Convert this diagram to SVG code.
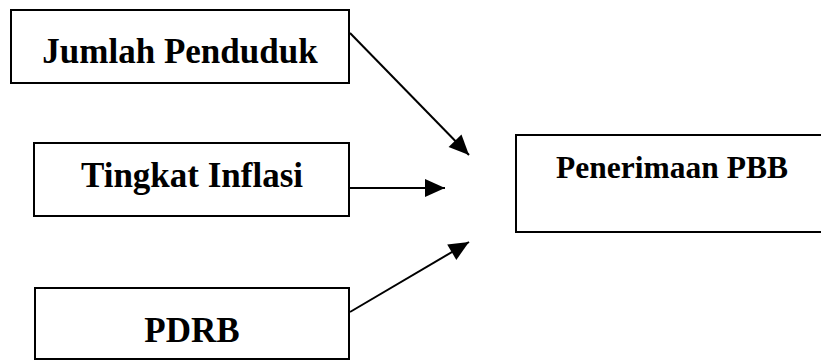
<svg xmlns="http://www.w3.org/2000/svg" width="821" height="361" viewBox="0 0 821 361">
  <style>
    .box { fill: #fff; stroke: #000; stroke-width: 2; }
    .lbl { font-family: "Liberation Serif", "Times New Roman", serif; font-weight: bold; font-size: 35px; fill: #000; text-anchor: middle; }
    .edge { stroke: #000; stroke-width: 2; fill: none; marker-end: url(#arr); }
  </style>
  <defs>
    <marker id="arr" markerUnits="userSpaceOnUse" markerWidth="22" markerHeight="20" refX="20" refY="9" orient="auto" overflow="visible">
      <path d="M0,0 L20,9 L0,18 z" fill="#000"/>
    </marker>
  </defs>
  <rect width="821" height="361" fill="#fff"/>
  <g id="jumlah-penduduk">
    <rect class="box" x="11" y="10" width="338" height="73"/>
    <text class="lbl" x="180" y="63">Jumlah Penduduk</text>
  </g>
  <g id="tingkat-inflasi">
    <rect class="box" x="34" y="143" width="315" height="73"/>
    <text class="lbl" x="192" y="187">Tingkat Inflasi</text>
  </g>
  <g id="pdrb">
    <rect class="box" x="35" y="288" width="314" height="71"/>
    <text class="lbl" x="192" y="342">PDRB</text>
  </g>
  <g id="penerimaan-pbb">
    <rect class="box" x="516" y="135" width="320" height="97"/>
    <text class="lbl" x="672" y="178" style="font-size:31.5px">Penerimaan PBB</text>
  </g>
  <g id="connectors">
    <line class="edge" x1="350" y1="33" x2="469" y2="155"/>
    <line class="edge" x1="350" y1="188" x2="445" y2="188"/>
    <line class="edge" x1="350" y1="312" x2="469" y2="242"/>
  </g>
</svg>
